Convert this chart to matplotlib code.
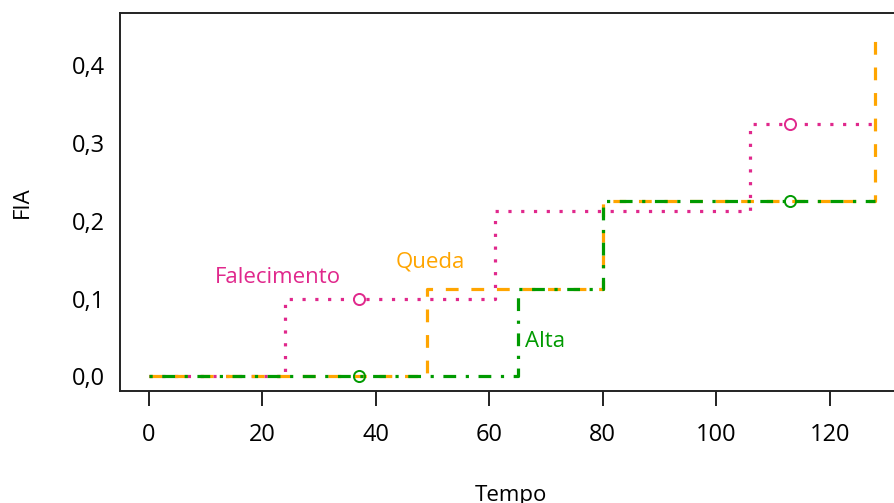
import matplotlib
matplotlib.use("Agg")
import matplotlib.pyplot as plt

# Cumulative incidence (FIA) step curves for three competing events
tempo_falecimento = [0, 24, 61, 106, 128]
fia_falecimento = [0.0, 0.100, 0.212, 0.325, 0.325]

tempo_queda = [0, 49, 80, 128]
fia_queda = [0.0, 0.113, 0.226, 0.437]

tempo_alta = [0, 65, 80, 128]
fia_alta = [0.0, 0.113, 0.226, 0.226]

# censoring marks
marca_tempo = [37, 113]
marca_falecimento = [0.100, 0.325]
marca_alta = [0.0, 0.226]

xticks = [0, 20, 40, 60, 80, 100, 120]
yticks = [0.0, 0.1, 0.2, 0.3, 0.4]
ytick_labels = ["0,0", "0,1", "0,2", "0,3", "0,4"]

c_fal = "#E0288C"
c_queda = "#FFA500"
c_alta = "#009A00"

plt.rcParams["font.family"] = ["Open Sans", "DejaVu Sans"]

fig = plt.figure(figsize=(8.95, 5.03), dpi=100)
ax = fig.add_axes([120 / 895, 1 - 391 / 503, 1 - 120 / 895, (391 - 13) / 503])

lw = 2.3
l1, = ax.step(tempo_falecimento, fia_falecimento, where="post", color=c_fal, lw=lw)
l1.set_dashes([1, 3])
l2, = ax.step(tempo_queda, fia_queda, where="post", color=c_queda, lw=lw)
l2.set_dashes([4, 4])
l3, = ax.step(tempo_alta, fia_alta, where="post", color=c_alta, lw=lw)
l3.set_dashes([1, 3, 4, 3])

ax.plot(marca_tempo, marca_falecimento, "o", mfc="white", mec=c_fal, ms=8, mew=1.4, zorder=5)
ax.plot(marca_tempo, marca_alta, "o", mfc="none", mec=c_alta, ms=8, mew=1.4, zorder=5)

ax.text(22.8, 0.127, "Falecimento", color=c_fal, fontsize=16, ha="center", va="center")
ax.text(49.6, 0.147, "Queda", color=c_queda, fontsize=16, ha="center", va="center")
ax.text(69.9, 0.045, "Alta", color=c_alta, fontsize=16, ha="center", va="center")

ax.set_xlim(-5.11, 131.5)
ax.set_ylim(-0.0187, 0.467)
ax.set_xticks(xticks)
ax.set_xticklabels([str(v) for v in xticks])
ax.set_yticks(yticks)
ax.set_yticklabels(ytick_labels)
ax.tick_params(axis="x", length=11, width=1.4, pad=12, labelsize=17, color="#222222")
ax.tick_params(axis="y", length=0, pad=11, labelsize=17)

for s in ["left", "top", "bottom"]:
    ax.spines[s].set_linewidth(1.4)
    ax.spines[s].set_color("#222222")
ax.spines["right"].set_visible(False)

ax.set_xlabel("Tempo", fontsize=16, va="baseline")
ax.xaxis.set_label_coords(0.504, (391 - 501) / 378)
ax.set_ylabel("FIA", fontsize=16, va="center")
ax.yaxis.set_label_coords((22 - 120) / 775, 0.5)

fig.savefig("out.png", dpi=100)
